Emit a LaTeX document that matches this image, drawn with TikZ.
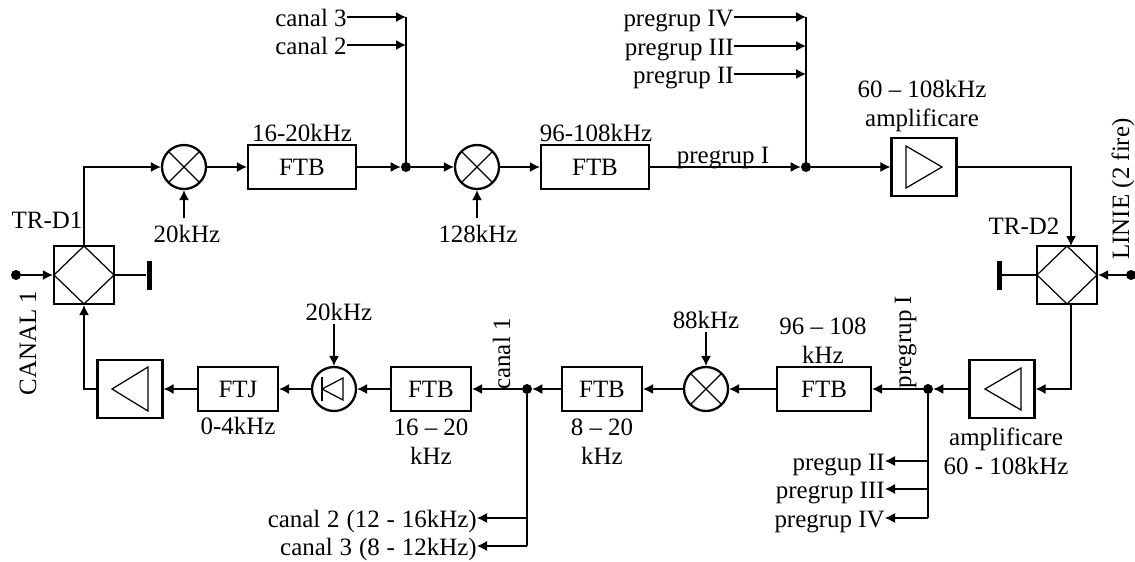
\documentclass[tikz,border=0pt]{standalone}
\usepackage{fontspec}
\setmainfont{Liberation Serif}
\usetikzlibrary{arrows.meta}
\newcommand{\widesp}{\spaceskip 3.9pt\relax}
\tikzset{
  mlbl/.style={inner sep=0pt,align=center},
  lbl/.style={inner sep=0pt,text height=10.5pt,text depth=0pt},
  widelbl/.style={lbl,font=\fontsize{14.2}{16.4}\selectfont\widesp},
  conn/.style={line width=0.7pt},
  arr/.style={conn,-{Latex[length=2mm,width=2mm]}},
  ftb/.style={draw,line width=1.3pt,minimum width=1.6cm,minimum height=0.88cm,inner sep=0pt},
  ftbwide/.style={ftb,minimum width=2.16cm},
  ampbox/.style={draw,line width=1.3pt,minimum width=1.3cm,minimum height=1.16cm,inner sep=0pt},
  hybrid/.style={draw,line width=1.3pt,minimum width=1.2cm,minimum height=1.16cm,inner sep=0pt,
    path picture={\draw[conn] (path picture bounding box.north) -- (path picture bounding box.east)
      -- (path picture bounding box.south) -- (path picture bounding box.west) -- cycle;}},
  mixer/.style={circle,draw,line width=1.3pt,minimum size=0.88cm,inner sep=0pt,
    path picture={\draw[conn] (path picture bounding box.north west) -- (path picture bounding box.south east)
      (path picture bounding box.north east) -- (path picture bounding box.south west);}},
  dot/.style={circle,fill,inner sep=0pt,minimum size=0.2cm},
  term/.style={fill,inner sep=0pt,minimum width=0.1cm,minimum height=0.58cm},
}
\begin{document}
\begin{tikzpicture}[x=0.02cm,y=-0.02cm,font=\fontsize{14.2}{16.4}\selectfont]
  \useasboundingbox (0,0) rectangle (1135,561);

  \node[hybrid] (d1) at (84,275) {};
  \node[mixer] (m1) at (184,167) {};
  \node[ftbwide] (f1) at (302,167) {FTB};
  \node[dot] (j1) at (406,167) {};
  \node[mixer] (m2) at (477,167) {};
  \node[ftbwide] (f2) at (595,167) {FTB};
  \node[dot] (j2) at (806,167) {};
  \node[ampbox] (a1) at (924,167) {};
  \node[hybrid] (d2) at (1067,275) {};

  \node[ampbox] (a2) at (1002,389) {};
  \node[dot] (j3) at (928,389) {};
  \node[ftb,minimum width=1.88cm] (f3) at (824,389) {FTB};
  \node[mixer] (m3) at (706,389) {};
  \node[ftb] (f4) at (602,389) {FTB};
  \node[dot] (j4) at (527,389) {};
  \node[ftb] (f5) at (431,389) {FTB};
  \node[circle,draw,line width=1.3pt,minimum size=0.88cm,inner sep=0pt] (dm) at (334,389) {};
  \node[ftb] (f6) at (238,389) {FTJ};
  \node[ampbox] (a3) at (130,389) {};

  \draw[conn] ([shift={(-18,-21)}]a1.center) -- ([shift={(18,0)}]a1.center) -- ([shift={(-18,21)}]a1.center) -- cycle;
  \draw[conn] ([shift={(19,-21)}]a2.center) -- ([shift={(-17,0)}]a2.center) -- ([shift={(19,21)}]a2.center) -- cycle;
  \draw[conn] ([shift={(18,-22)}]a3.center) -- ([shift={(-18,0)}]a3.center) -- ([shift={(18,22)}]a3.center) -- cycle;
  \draw[conn] ([shift={(9,-11)}]dm.center) -- ([shift={(-12,0)}]dm.center) -- ([shift={(9,11)}]dm.center) -- cycle;
  \draw[conn] ([shift={(-12,-12)}]dm.center) -- ([shift={(-12,12)}]dm.center);

  \node[dot] (in1) at (16,275) {};
  \node[dot] (in2) at (1131,275) {};
  \node[term] (t1) at (149,275) {};
  \node[term] (t2) at (999,275) {};
  \draw[arr] (in1) -- (d1.west);
  \draw[arr] (in2) -- (d2.east);
  \draw[conn] (d1.east) -- (t1);
  \draw[conn] (d2.west) -- (t2);

  \coordinate (c1) at (84,167);
  \coordinate (c2) at (1071,167);
  \coordinate (c3) at (1071,246);
  \coordinate (c4) at (1071,303);
  \coordinate (c5) at (1071,389);
  \coordinate (c6) at (84,389);
  \draw[arr] (d1.north) -- (c1) -- (m1.west);
  \draw[arr] (m1) -- (f1);
  \draw[arr] (f1) -- (j1);
  \draw[arr] (j1) -- (m2);
  \draw[arr] (m2) -- (f2);
  \draw[arr] (f2) -- (j2);
  \draw[arr] (j2) -- (a1);
  \draw[arr] (a1.east) -- (c2) -- (c3);
  \draw[arr] (c4) -- (c5) -- (a2.east);
  \draw[arr] (a2) -- (j3);
  \draw[arr] (j3) -- (f3);
  \draw[arr] (f3) -- (m3);
  \draw[arr] (m3) -- (f4);
  \draw[arr] (f4) -- (j4);
  \draw[arr] (j4) -- (f5);
  \draw[arr] (f5) -- (dm);
  \draw[arr] (dm) -- (f6);
  \draw[arr] (f6) -- (a3);
  \draw[arr] (a3.west) -- (c6) -- (d1.south);

  \node[lbl,anchor=east] (l1) at (347,17) {canal 3};
  \node[lbl,anchor=east] (l2) at (347,45) {canal 2};
  \coordinate (v1) at (406,17);
  \coordinate (v2) at (406,45);
  \draw[arr] (l1) -- (v1);
  \draw[arr] (l2) -- (v2);
  \draw[conn] (v1) -- (j1);

  \node[lbl,anchor=east] (p4) at (734,17) {pregrup IV};
  \node[lbl,anchor=east] (p3) at (734,46) {pregrup III};
  \node[lbl,anchor=east] (p2) at (734,74) {pregrup II};
  \coordinate (v3) at (806,17);
  \coordinate (v4) at (806,46);
  \coordinate (v5) at (806,74);
  \draw[arr] (p4) -- (v3);
  \draw[arr] (p3) -- (v4);
  \draw[arr] (p2) -- (v5);
  \draw[conn] (v3) -- (j2);

  \node[lbl,anchor=east] (q2) at (885,461) {pregup II};
  \node[lbl,anchor=east] (q3) at (885,489) {pregrup III};
  \node[lbl,anchor=east] (q4) at (885,518) {pregrup IV};
  \coordinate (v6) at (928,461);
  \coordinate (v7) at (928,489);
  \coordinate (v8) at (928,518);
  \draw[arr] (v6) -- (q2);
  \draw[arr] (v7) -- (q3);
  \draw[arr] (v8) -- (q4);
  \draw[conn] (j3) -- (v8);

  \node[widelbl,anchor=east] (r2) at (477,518) {canal 2 (12 - 16kHz)};
  \node[widelbl,anchor=east] (r3) at (477,546) {canal 3 (8 - 12kHz)};
  \coordinate (v9) at (527,518);
  \coordinate (v10) at (527,546);
  \draw[arr] (v9) -- (r2);
  \draw[arr] (v10) -- (r3);
  \draw[conn] (j4) -- (v10);

  \node[lbl] (o1) at (187,233) {20kHz};
  \node[lbl] (o2) at (478,233) {128kHz};
  \node[lbl] (o3) at (339,311) {20kHz};
  \node[lbl] (o4) at (706,319) {88kHz};
  \coordinate (s1) at (184,218);
  \coordinate (s2) at (477,218);
  \coordinate (s3) at (334,324);
  \coordinate (s4) at (706,332);
  \draw[arr] (s1) -- (m1.south);
  \draw[arr] (s2) -- (m2.south);
  \draw[arr] (s3) -- (dm.north);
  \draw[arr] (s4) -- (m3.north);

  \node[lbl] at (302,132) {16-20kHz};
  \node[lbl] at (596,132) {96-108kHz};
  \node[lbl] at (723,154) {pregrup I};
  \node[mlbl] at (922,106) {60 -- 108kHz\\amplificare};
  \node[lbl] at (47,219) {TR-D1};
  \node[lbl] at (1024,225) {TR-D2};
  \node[mlbl] at (823,341) {96 -- 108\\kHz};
  \node[mlbl] at (431,442) {16 -- 20\\kHz};
  \node[mlbl] at (602,442) {8 -- 20\\kHz};
  \node[lbl] at (238,425) {0-4kHz};
  \node[mlbl] at (1006,451) {amplificare\\60 - 108kHz};
  \node[lbl,rotate=90] at (27,343) {CANAL 1};
  \node[lbl,rotate=90] at (1120,189) {LINIE (2 fire)};
  \node[lbl,rotate=90] at (902,342) {pregrup I};
  \node[lbl,rotate=90] at (501,354) {canal 1};
\end{tikzpicture}
\end{document}
